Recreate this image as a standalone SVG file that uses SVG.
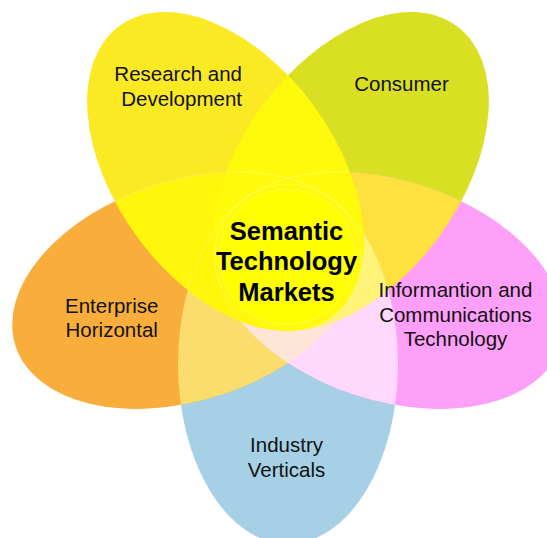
<svg xmlns="http://www.w3.org/2000/svg" xmlns:xlink="http://www.w3.org/1999/xlink" width="547" height="538" viewBox="0 0 547 538">
<style>
.lbl{font-family:"Liberation Sans",Arial,Helvetica,sans-serif;font-size:20.5px;fill:#111;}
.mid{text-anchor:middle;}
.end{text-anchor:end;}
.ctr{font-family:"Liberation Sans",Arial,Helvetica,sans-serif;font-size:25.5px;font-weight:bold;fill:#000;text-anchor:middle;}
.seam{fill:none;stroke:#ffffff;stroke-opacity:0.3;stroke-width:0.8;}
</style>
<defs>
<ellipse id="eB" cx="288" cy="364" rx="180" ry="110" transform="rotate(90 288 364)"/>
<ellipse id="eO" cx="186.71" cy="290.41" rx="180" ry="110" transform="rotate(162 186.71 290.41)"/>
<ellipse id="eR" cx="225.4" cy="171.34" rx="180" ry="110" transform="rotate(234 225.4 171.34)"/>
<ellipse id="eC" cx="350.6" cy="171.34" rx="180" ry="110" transform="rotate(306 350.6 171.34)"/>
<ellipse id="eP" cx="389.29" cy="290.41" rx="180" ry="110" transform="rotate(18 389.29 290.41)"/>
<clipPath id="cB"><ellipse cx="288" cy="364" rx="180" ry="110" transform="rotate(90 288 364)"/></clipPath>
<clipPath id="cO"><ellipse cx="186.71" cy="290.41" rx="180" ry="110" transform="rotate(162 186.71 290.41)"/></clipPath>
<clipPath id="cR"><ellipse cx="225.4" cy="171.34" rx="180" ry="110" transform="rotate(234 225.4 171.34)"/></clipPath>
<clipPath id="cC"><ellipse cx="350.6" cy="171.34" rx="180" ry="110" transform="rotate(306 350.6 171.34)"/></clipPath>
<clipPath id="cP"><ellipse cx="389.29" cy="290.41" rx="180" ry="110" transform="rotate(18 389.29 290.41)"/></clipPath>
</defs>

<g id="petal-consumer"><use href="#eC" fill="#d9df22"/></g>
<g id="petal-research"><use href="#eR" fill="#fbe924"/></g>
<g id="petal-industry"><use href="#eB" fill="#a6d0e6"/></g>
<g id="petal-enterprise"><use href="#eO" fill="#f9ae3c"/></g>
<g id="petal-ict"><use href="#eP" fill="#fe9ffa"/></g>

<g id="overlaps">
<use href="#eO" clip-path="url(#cB)" fill="#fbdd6e"/>
<use href="#eP" clip-path="url(#cB)" fill="#ffd8fd"/>
<g clip-path="url(#cP)"><use href="#eO" clip-path="url(#cB)" fill="#ffe5d6"/></g>
<use href="#eC" clip-path="url(#cP)" fill="#fee13f"/>
<g clip-path="url(#cP)"><use href="#eC" clip-path="url(#cB)" fill="#fff37a"/></g>
<use href="#eR" clip-path="url(#cO)" fill="#fff60c"/>
<use href="#eR" clip-path="url(#cB)" fill="#fff60c"/>
<use href="#eR" clip-path="url(#cP)" fill="#fff60c"/>
<use href="#eR" clip-path="url(#cC)" fill="#fffa0b"/>
<g clip-path="url(#cR)">
<use href="#eO" class="seam"/>
<use href="#eP" class="seam"/>
<use href="#eB" class="seam"/>
</g>
</g>

<g id="center">
<circle cx="287" cy="257" r="67.5" fill="#ffff00" stroke="#ffffff" stroke-opacity="0.3" stroke-width="0.8"/>
<text class="ctr" x="286.5" y="239.5">Semantic</text>
<text class="ctr" x="286.5" y="270">Technology</text>
<text class="ctr" x="286.5" y="300.5">Markets</text>
</g>

<g id="label-research">
<text class="lbl end" x="242" y="81">Research and</text>
<text class="lbl end" x="242" y="105.5">Development</text>
</g>
<g id="label-consumer">
<text class="lbl mid" x="401.5" y="90.7">Consumer</text>
</g>
<g id="label-ict">
<text class="lbl mid" x="455.5" y="297">Informantion and</text>
<text class="lbl mid" x="455.5" y="321.5">Communications</text>
<text class="lbl mid" x="455.5" y="346">Technology</text>
</g>
<g id="label-enterprise">
<text class="lbl mid" x="111.7" y="312.7">Enterprise</text>
<text class="lbl mid" x="111.7" y="337.3">Horizontal</text>
</g>
<g id="label-industry">
<text class="lbl mid" x="286.5" y="452.3">Industry</text>
<text class="lbl mid" x="286.5" y="476.7">Verticals</text>
</g>
<g id="connectors"/>
</svg>
